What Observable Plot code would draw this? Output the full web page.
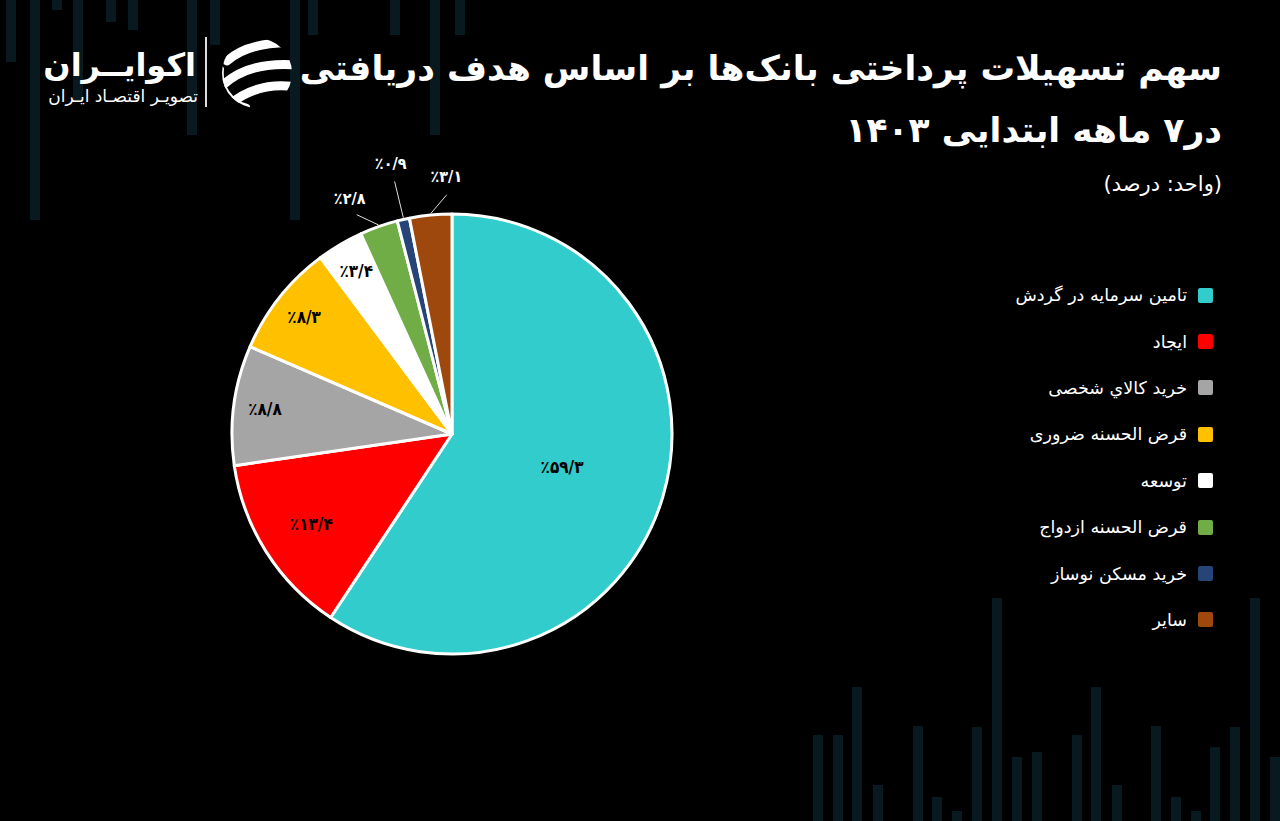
<!DOCTYPE html>
<html><head><meta charset="utf-8">
<script src="https://cdn.jsdelivr.net/npm/d3@7"></script>
<script src="https://cdn.jsdelivr.net/npm/@observablehq/plot@0.6"></script>
<style>
html,body{margin:0;padding:0;background:#000;}
#page{position:relative;width:1280px;height:821px;background:#000;overflow:hidden;font-family:"DejaVu Sans","Noto Sans",sans-serif;color:#fff;}
.bg{position:absolute;width:10px;background:#08191f;}
#title{position:absolute;right:58px;top:37px;direction:rtl;text-align:right;font-size:34.5px;font-weight:bold;line-height:62px;white-space:nowrap;}
#subtitle{position:absolute;right:58px;top:169px;direction:rtl;font-size:21px;line-height:30px;}
#legend{position:absolute;right:67px;top:272px;direction:rtl;}
.row{display:flex;align-items:center;height:46.4px;font-size:17.5px;}
.sw{width:15px;height:15px;border-radius:2px;margin-left:11px;}
#chart{position:absolute;left:152px;top:134px;}
#logo1{position:absolute;left:20px;top:44px;width:176px;text-align:right;direction:rtl;font-size:32px;font-weight:bold;line-height:42px;white-space:nowrap;}
#logo2{position:absolute;left:20px;top:84px;width:178px;text-align:right;direction:rtl;font-size:17px;line-height:24px;white-space:nowrap;}
#sep{position:absolute;left:205px;top:37px;width:2px;height:70px;background:#ddd;}
#icon{position:absolute;left:218px;top:36px;}
</style></head>
<body><div id="page">
<div id="bgbars"></div>
<div id="logo1">اکوایــران</div>
<div id="logo2">تصویـر اقتصـاد ایـران</div>
<div id="sep"></div>
<svg id="icon" width="78" height="74" viewBox="-39 -37 78 74">
<defs><clipPath id="cc"><circle r="35"/></clipPath></defs>
<g clip-path="url(#cc)" fill="none" stroke="#fff" stroke-linecap="round">
<path d="M -30 -12 Q -8 -32 40 -30" stroke-width="9"/>
<path d="M -34 12 Q -8 -12 40 -8" stroke-width="9"/>
<path d="M -28 32 Q 0 8 40 14" stroke-width="9"/>
<path d="M -36 -4 A 35 35 0 0 0 -10 34" stroke-width="6"/>
</g></svg>
<div id="title">سهم تسهیلات پرداختی بانک‌ها بر اساس هدف دریافتی<br>در۷ ماهه ابتدایی ۱۴۰۳</div>
<div id="subtitle">(واحد: درصد)</div>
<div id="legend"></div>
<div id="chart"></div>
</div>
<script>
const categories = ["تامین سرمایه در گردش","ایجاد","خرید کالاي شخصی","قرض الحسنه ضروری","توسعه","قرض الحسنه ازدواج","خرید مسکن نوساز","سایر"];
const values = [59.3, 13.4, 8.8, 8.3, 3.4, 2.8, 0.9, 3.1];
const colors = ["#33CCCC","#FF0000","#A5A5A5","#FFC000","#FFFFFF","#70AD47","#264478","#9E480E"];

// decorative background stripes of the infographic template
const bgTop = [[6,62],[30,220],[52,10],[73,100],[106,22],[128,30],[187,135],[210,45],[290,220],[308,35],[390,35],[430,135],[455,35]];
const bgBottom = [[813,735],[833,735],[852,687],[873,785],[913,726],[932,797],[952,811],[972,727],[992,598],[1012,757],[1032,752],[1072,735],[1091,687],[1112,785],[1151,726],[1171,797],[1191,811],[1210,747],[1230,727],[1250,598],[1270,757]];
const bg = d3.select("#bgbars");
bgTop.forEach(([x, b]) => bg.append("div").attr("class","bg").style("left", x+"px").style("top","0px").style("height", b+"px"));
bgBottom.forEach(([x, t]) => bg.append("div").attr("class","bg").style("left", x+"px").style("top", t+"px").style("height", (821-t)+"px"));

const faDigits = "۰۱۲۳۴۵۶۷۸۹";
// left-to-right override so the percent sign sits at the left, as in the original
const fa = v => "\u202D٪" + String(v).replace(".", "/").replace(/[0-9]/g, d => faDigits[+d]) + "\u202C";

const data = categories.map((c, i) => ({category: c, value: values[i], color: colors[i]}));
const arcs = d3.pie().sort(null).value(d => d.value)(data);
arcs.forEach(a => {
  a.mid = (a.startAngle + a.endAngle) / 2;
  a.outside = a.data.value < 3.2;
  a.lr = a.data.value > 30 ? 0.52 : a.data.value > 10 ? 0.76 : 0.86;
});
const inside = arcs.filter(a => !a.outside);
const outside = arcs.filter(a => a.outside);
// spread outside labels apart around their common centre angle, staggering radii
const oc = d3.mean(outside, a => a.mid);
outside.forEach((a, i) => { a.la = oc + (a.mid - oc) * 1.6; a.lr = i % 2 ? 1.26 : 1.17; });

const px = (a, r) => r * Math.sin(a);
const py = (a, r) => r * Math.cos(a);

const W = 600, k = 300 / 220;

const pieMark = (index, scales) => {
  const cx = scales.x(0), cy = scales.y(0), R = scales.x(1) - scales.x(0);
  const g = d3.create("svg:g").attr("transform", `translate(${cx},${cy})`);
  const arc = d3.arc().innerRadius(0).outerRadius(R);
  g.selectAll("path").data(arcs).join("path")
    .attr("d", arc).attr("fill", d => d.data.color)
    .attr("stroke", "#fff").attr("stroke-width", 3).attr("stroke-linejoin", "round");
  return g.node();
};

const plot = Plot.plot({
  width: W, height: W, margin: 0,
  style: {background: "transparent", overflow: "visible"},
  x: {domain: [-k, k], axis: null},
  y: {domain: [-k, k], axis: null},
  marks: [
    pieMark,
    Plot.link(outside, {
      x1: d => px(d.mid, 1.01), y1: d => py(d.mid, 1.01),
      x2: d => px(d.la, d.lr - 0.08), y2: d => py(d.la, d.lr - 0.08),
      stroke: "#ddd", strokeWidth: 1
    }),
    Plot.text(inside, {
      x: d => px(d.mid, d.lr), y: d => py(d.mid, d.lr),
      text: d => fa(d.data.value), fill: "#000",
      fontSize: 17, fontWeight: "bold", fontFamily: "DejaVu Sans Condensed, DejaVu Sans"
    }),
    Plot.text(outside, {
      x: d => px(d.la, d.lr), y: d => py(d.la, d.lr),
      text: d => fa(d.data.value), fill: "#fff",
      fontSize: 16, fontWeight: "bold", fontFamily: "DejaVu Sans Condensed, DejaVu Sans"
    })
  ]
});
document.getElementById("chart").appendChild(plot);

const leg = d3.select("#legend");
data.forEach(d => {
  const r = leg.append("div").attr("class", "row");
  r.append("div").attr("class", "sw").style("background", d.color);
  r.append("span").text(d.category);
});
</script>
</body></html>
